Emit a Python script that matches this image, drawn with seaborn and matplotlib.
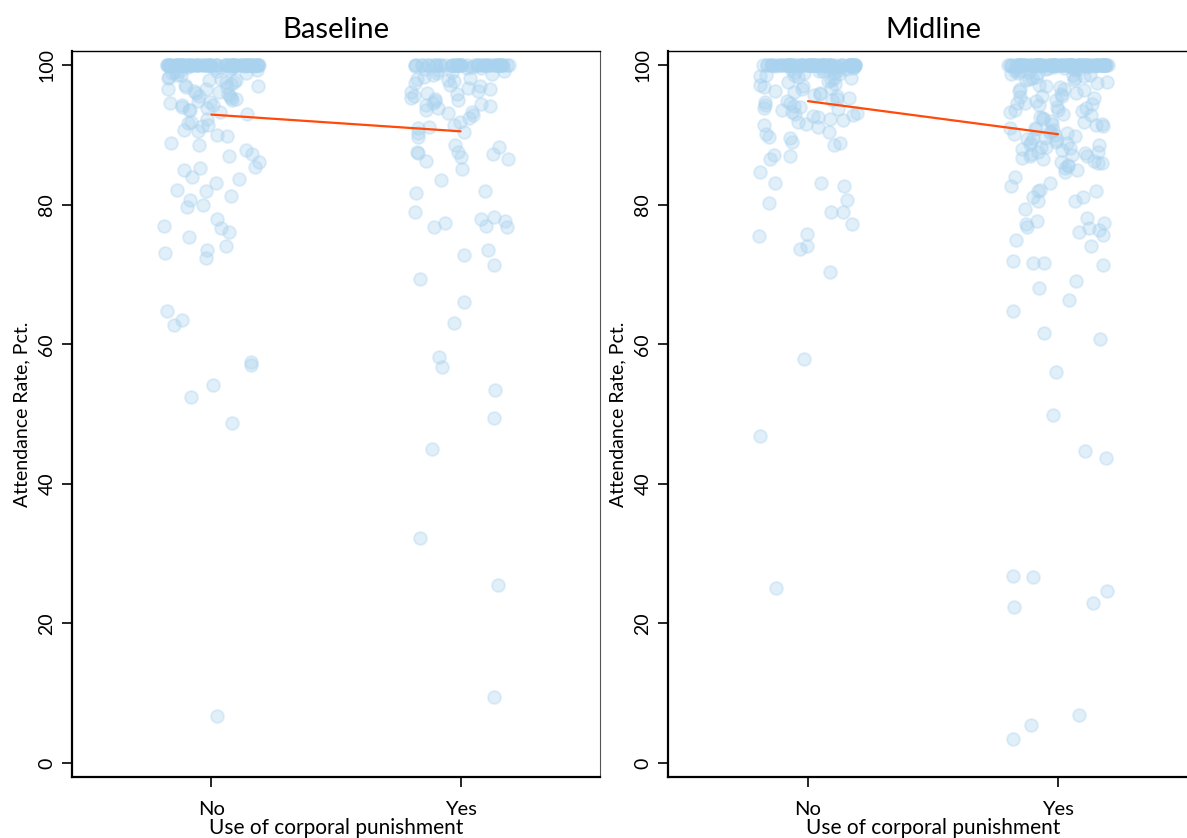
import numpy as np
import pandas as pd
import matplotlib
matplotlib.use("Agg")
import matplotlib.pyplot as plt
import seaborn as sns

sns.set_style("white")
plt.rcParams['font.family'] = ['Lato', 'DejaVu Sans']
plt.rcParams['text.color'] = 'black'
plt.rcParams['axes.labelcolor'] = 'black'
plt.rcParams['xtick.color'] = 'black'
plt.rcParams['ytick.color'] = 'black'

# ---------------- data (attendance rate, %) ----------------
categories = ["No", "Yes"]
waves = ["Baseline", "Midline"]

baseline_no_low = [6.7, 48.7, 52.5, 54.2, 57.0, 57.5, 62.7, 63.4, 64.7, 72.4, 73.1, 73.5, 74.0,
                   75.4, 76.0, 76.7, 77.0, 77.9, 79.6, 80.0, 80.7, 81.2, 81.9, 82.1, 83.1, 83.6,
                   83.9, 85.0, 85.2, 85.4, 86.1, 86.9, 87.3, 87.8, 88.5, 88.8, 89.8, 90.0, 90.5,
                   90.7, 91.2, 91.4, 91.7, 91.9, 92.3]
baseline_no_high = [93.0, 93.2, 93.5, 93.6, 93.8, 94.0, 94.2, 94.3, 94.5, 94.7, 94.8, 95.0, 95.1,
                    95.3, 95.5, 95.6, 95.8, 96.0, 96.1, 96.3, 96.5, 96.6, 96.8, 97.0, 97.1, 97.3,
                    97.5, 97.6, 97.8, 98.0, 98.1, 98.3, 98.5, 98.6, 98.8, 99.0, 99.1, 99.2, 99.3,
                    99.4, 99.5, 99.6, 99.7, 99.8, 99.8, 99.9, 99.9, 98.9, 97.9, 96.9]
baseline_no_full = 70

baseline_yes_low = [9.4, 25.5, 32.2, 45.0, 49.4, 53.4, 56.7, 58.1, 63.1, 66.1, 69.3, 71.4, 72.8,
                    73.5, 76.8, 76.8, 77.0, 77.4, 77.6, 77.9, 78.2, 79.0, 81.7, 81.9, 83.5, 85.1,
                    86.2, 86.5, 86.8, 87.2, 87.4, 87.6, 87.6, 88.3, 88.5, 89.7, 90.2, 90.4, 90.9,
                    91.1, 91.4, 91.9, 92.4]
baseline_yes_high = [92.9, 93.1, 93.3, 93.6, 93.8, 94.1, 94.3, 94.6, 94.8, 95.0, 95.3, 95.5, 95.8,
                     96.0, 96.2, 96.5, 96.7, 97.0, 97.2, 97.4, 97.7, 97.9, 98.1, 98.3, 98.5, 98.7,
                     98.9, 99.0, 99.2, 99.3, 99.4, 99.5, 99.6, 99.7, 99.8, 99.9, 96.1, 95.1, 94.4,
                     98.0]
baseline_yes_full = 45

midline_no_low = [25.1, 46.8, 57.9, 70.4, 73.7, 74.1, 75.5, 75.8, 77.2, 79.0, 79.0, 80.2, 80.7,
                  82.7, 83.1, 83.1, 84.7, 86.5, 86.9, 87.1, 88.5, 88.8, 88.9, 89.5, 89.7, 90.1,
                  90.4, 91.1, 91.4, 91.6]
midline_no_high = [91.9, 92.1, 92.3, 92.5, 92.7, 92.9, 93.1, 93.3, 93.5, 93.7, 93.9, 94.1, 94.3,
                   94.5, 94.7, 94.9, 95.1, 95.3, 95.5, 95.7, 95.9, 96.1, 96.3, 96.5, 96.7, 96.9,
                   97.1, 97.3, 97.5, 97.7, 97.9, 98.1, 98.3, 98.5, 98.7, 98.9, 99.1, 99.3, 99.5,
                   99.7, 99.8, 99.9, 99.6, 99.4, 99.2, 99.0, 98.8, 98.6, 98.4, 98.2, 97.0, 96.0,
                   95.0, 94.0, 93.0, 99.85, 99.75, 99.65, 99.55, 99.45]
midline_no_full = 67

midline_yes_low = [3.4, 5.4, 6.9, 22.3, 22.9, 24.7, 26.7, 26.8, 43.7, 44.7, 49.9, 56.0, 60.8,
                   61.6, 64.8, 66.3, 68.0, 69.1, 71.4, 71.6, 71.6, 71.9, 74.1, 74.9, 75.6, 76.1,
                   76.4, 76.6, 76.8, 77.2, 77.4, 77.7, 78.1, 79.4, 80.5, 80.5, 81.1, 81.1, 81.9,
                   82.1, 82.0, 82.6, 83.1, 84.0, 84.7, 85.0, 85.2]
midline_yes_mid = [85.5, 85.7, 85.9, 86.1, 86.3, 86.5, 86.7, 86.9, 87.0, 87.2, 87.4, 87.6, 87.8,
                   88.0, 88.1, 88.3, 88.5, 88.7, 88.9, 89.0, 89.2, 89.4, 89.6, 89.8, 90.0, 90.1,
                   90.3, 90.5, 90.7, 90.9, 91.0, 91.2, 91.4, 91.6, 91.8, 92.0, 86.0, 87.5, 88.8,
                   90.2, 91.5, 89.5, 88.2, 87.1, 90.8]
midline_yes_high = [92.2, 92.4, 92.6, 92.8, 93.0, 93.2, 93.4, 93.6, 93.8, 94.0, 94.2, 94.4, 94.6,
                    94.8, 95.0, 95.2, 95.4, 95.6, 95.8, 96.0, 96.2, 96.4, 96.6, 96.8, 97.0, 97.2,
                    97.4, 97.6, 97.8, 98.0, 98.2, 98.4, 98.6, 98.8, 99.0, 99.2, 99.4, 99.6, 99.8,
                    99.9, 99.7, 99.5, 99.3, 99.1, 98.9, 98.7, 98.5, 98.3, 98.1, 97.9, 96.5, 95.5,
                    94.5, 93.5, 99.85, 99.75, 99.65, 99.55, 99.45, 99.35]
midline_yes_full = 89

yticks = [0, 20, 40, 60, 80, 100]
xlabel_text = "Use of corporal punishment"
ylabel_text = "Attendance Rate, Pct."

groups = {
    ("Baseline", "No"): baseline_no_low + baseline_no_high + [100.0] * baseline_no_full,
    ("Baseline", "Yes"): baseline_yes_low + baseline_yes_high + [100.0] * baseline_yes_full,
    ("Midline", "No"): midline_no_low + midline_no_high + [100.0] * midline_no_full,
    ("Midline", "Yes"): midline_yes_low + midline_yes_mid + midline_yes_high + [100.0] * midline_yes_full,
}
rows = []
for (w, c), vals in groups.items():
    for v in vals:
        rows.append({"wave": w, "punish": c, "rate": v})
df = pd.DataFrame(rows)

# ---------------- figure ----------------
W, H = 1187, 838
fig = plt.figure(figsize=(W / 100, H / 100), dpi=100)

def px_axes(left, right, top, bottom):
    return fig.add_axes([left / W, 1 - bottom / H, (right - left) / W, (bottom - top) / H])

axes = [px_axes(72, 600, 51, 777), px_axes(668, 1198, 51, 777)]

point_color = "#a9d2ef"
line_color = "#ff4a0a"

for ax, wave, seed in zip(axes, waves, [3, 11]):
    sub = df[df["wave"] == wave]
    np.random.seed(seed)
    sns.stripplot(data=sub, x="punish", y="rate", order=categories, ax=ax,
                  jitter=0.2, size=9.2, color=point_color, edgecolor=point_color,
                  linewidth=1.4, alpha=0.35, zorder=2)
    means = sub.groupby("punish")["rate"].mean().reindex(categories)
    ax.plot(range(len(categories)), means.values, color=line_color, lw=1.6, zorder=3)

    ax.set_xlim(-0.56, 1.56)
    ax.set_ylim(-2, 102)
    ax.set_yticks(yticks)
    ax.set_yticklabels([str(t) for t in yticks], rotation=90, va="center", fontsize=14)
    ax.set_xticks(range(len(categories)))
    ax.set_xticklabels(categories, fontsize=14.5)
    ax.set_xlabel(xlabel_text, fontsize=15, labelpad=0)
    ax.set_ylabel(ylabel_text, fontsize=14, labelpad=6)
    ax.set_title(wave, fontsize=21, pad=9)
    ax.tick_params(axis="both", which="major", direction="out", length=7, width=1.2,
                   colors="black", left=True, bottom=True)
    ax.tick_params(axis="x", pad=10)
    ax.tick_params(axis="y", pad=5)
    for s in ["left", "bottom"]:
        ax.spines[s].set_linewidth(1.6)
        ax.spines[s].set_color("black")
    ax.spines["top"].set_linewidth(1.0)
    ax.spines["top"].set_color("black")
    ax.spines["right"].set_linewidth(0.8)
    ax.spines["right"].set_color("#555555")
    ax.grid(False)

fig.savefig("out.png", dpi=100)
